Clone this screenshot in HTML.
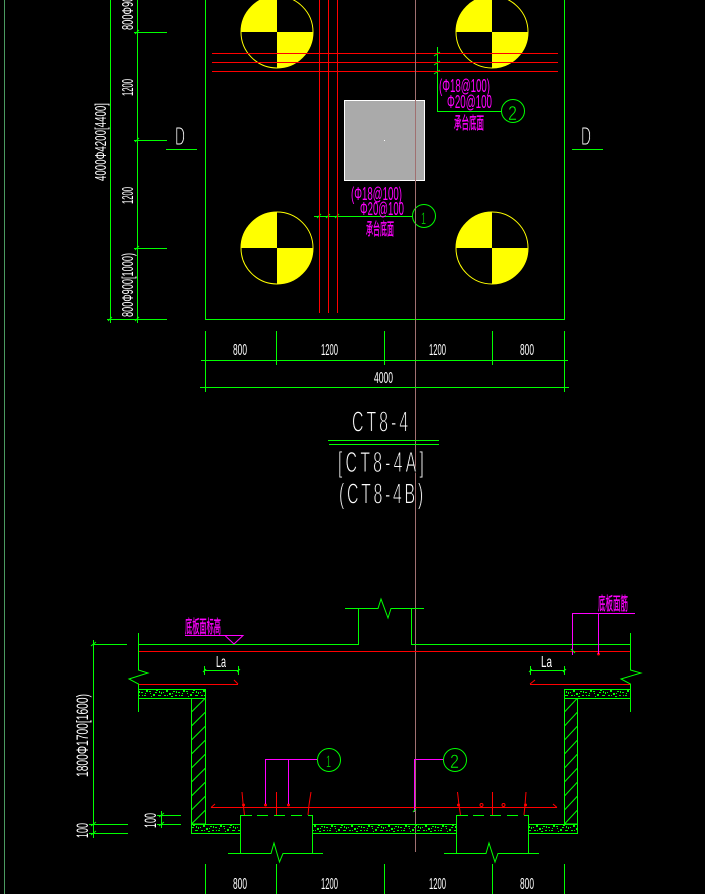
<!DOCTYPE html>
<html><head><meta charset="utf-8"><style>
html,body{margin:0;padding:0;background:#000;width:705px;height:894px;overflow:hidden}
svg{display:block}
text{font-family:"Liberation Sans","Noto Sans CJK SC",sans-serif}
.g line,.g path,.g rect.o{stroke:#0f0;fill:none;stroke-width:1}
.r line,.r path{stroke:#f00;fill:none;stroke-width:1}
.m line,.m path{stroke:#f0f;fill:none;stroke-width:1.4}
.w{fill:#fff}.mt{fill:#f0f}.gt{fill:#0f0;stroke:#000;stroke-width:.5}
.cj{stroke:#f0f;stroke-width:.35}
.ti{fill:#fff;stroke:#000;stroke-width:.9}
</style></head><body>
<svg width="705" height="894" viewBox="0 0 705 894" xmlns="http://www.w3.org/2000/svg" shape-rendering="crispEdges">
<defs>
<g id="noise" fill="#0f0"><rect x="1" y="2" width="2" height="1"/><rect x="5" y="5" width="2" height="2"/><rect x="8" y="1" width="2" height="1"/><rect x="10" y="6" width="3" height="1"/><rect x="13" y="3" width="1" height="2"/><rect x="16" y="6" width="2" height="1"/><rect x="18" y="1" width="2" height="2"/><rect x="21" y="4" width="2" height="2"/><rect x="25" y="2" width="2" height="1"/><rect x="27" y="6" width="2" height="1"/><rect x="30" y="3" width="2" height="1"/><rect x="33" y="6" width="2" height="1"/><rect x="35" y="1" width="2" height="2"/><rect x="3" y="7" width="1" height="1"/><rect x="23" y="7" width="2" height="1"/><rect x="2" y="4" width="1" height="1"/><rect x="7" y="3" width="2" height="1"/><rect x="11" y="2" width="1" height="2"/><rect x="15" y="3" width="1" height="1"/><rect x="19" y="6" width="1" height="1"/><rect x="24" y="4" width="1" height="1"/><rect x="28" y="2" width="1" height="2"/><rect x="31" y="6" width="1" height="1"/><rect x="34" y="4" width="1" height="1"/></g>
<pattern id="n" patternUnits="userSpaceOnUse" x="0" y="689" width="37" height="9"><use href="#noise"/></pattern>
<pattern id="n2" patternUnits="userSpaceOnUse" x="0" y="824" width="37" height="9"><use href="#noise"/></pattern>
<pattern id="d1" patternUnits="userSpaceOnUse" x="191.5" y="698" width="14" height="14"><path d="M0 14L14 0" stroke="#0f0" stroke-width="1" fill="none" shape-rendering="auto"/></pattern>
<pattern id="d2" patternUnits="userSpaceOnUse" x="564.5" y="698" width="13" height="14"><path d="M0 14L13 0" stroke="#0f0" stroke-width="1" fill="none" shape-rendering="auto"/></pattern>
</defs>
<rect width="705" height="894" fill="#000"/>
<line x1="4.5" y1="0" x2="4.5" y2="894" stroke="#4a9a60"/>

<!-- piles -->
<g shape-rendering="auto">
<path d="M277 32V-4A36 36 0 0 0 241 32Z M277 32H313A36 36 0 0 1 277 68Z" fill="#ff0"/><circle cx="277" cy="32" r="36" fill="none" stroke="#ff0"/>
<path d="M492 32V-4A36 36 0 0 0 456 32Z M492 32H528A36 36 0 0 1 492 68Z" fill="#ff0"/><circle cx="492" cy="32" r="36" fill="none" stroke="#ff0"/>
<path d="M277 248V212A36 36 0 0 0 241 248Z M277 248H313A36 36 0 0 1 277 284Z" fill="#ff0"/><circle cx="277" cy="248" r="36" fill="none" stroke="#ff0"/>
<path d="M492 248V212A36 36 0 0 0 456 248Z M492 248H528A36 36 0 0 1 492 284Z" fill="#ff0"/><circle cx="492" cy="248" r="36" fill="none" stroke="#ff0"/>
</g>

<!-- plan outline -->
<g class="g">
<path d="M205.5 0V319.5H564.5V0"/>
<line x1="110.5" y1="0" x2="110.5" y2="323"/><line x1="137.5" y1="0" x2="137.5" y2="323"/>
<line x1="134" y1="32.5" x2="167" y2="32.5"/><line x1="134" y1="140.5" x2="167" y2="140.5"/><line x1="134" y1="248.5" x2="167" y2="248.5"/><line x1="107" y1="319.5" x2="167" y2="319.5"/>
<line x1="166" y1="149.5" x2="197" y2="149.5"/><line x1="572" y1="149.5" x2="603" y2="149.5"/>
<path d="M314 216.5H412"/><path d="M437.5 47V111.5H502"/>
</g>
<g shape-rendering="auto" fill="none" stroke="#0f0">
<circle cx="424" cy="216" r="11.5"/><circle cx="513" cy="111" r="11.5"/>
<path d="M135 34l4-4M135 142l4-4M135 250l4-4M108 321l4-4M135 321l4-4M317 218l4-4M326 218l4-4M335 218l4-4M434 56l6-4M434 65l6-4M434 74l6-4"/>
</g>

<!-- grey column -->
<rect x="344.5" y="100.5" width="80" height="80" fill="#aaa" stroke="#fff"/>
<rect x="384" y="140" width="1" height="1" fill="#fff"/>

<!-- red rebar -->
<g class="r">
<line x1="212" y1="53.5" x2="558" y2="53.5"/><line x1="212" y1="62.5" x2="558" y2="62.5"/><line x1="212" y1="71.5" x2="558" y2="71.5"/>
<line x1="319.5" y1="0" x2="319.5" y2="313"/><line x1="328.5" y1="0" x2="328.5" y2="313"/><line x1="337.5" y1="0" x2="337.5" y2="313"/>
</g>
<line x1="415.5" y1="0" x2="415.5" y2="852" stroke="#a07070"/>

<!-- plan text -->
<g shape-rendering="auto">
<text class="w" transform="translate(133,30) rotate(-90)" font-size="16" textLength="65" lengthAdjust="spacingAndGlyphs">800Φ900[1000)</text>
<text class="w" transform="translate(133,96) rotate(-90)" font-size="16" textLength="17" lengthAdjust="spacingAndGlyphs">1200</text>
<text class="w" transform="translate(133,204) rotate(-90)" font-size="16" textLength="17" lengthAdjust="spacingAndGlyphs">1200</text>
<text class="w" transform="translate(133,317) rotate(-90)" font-size="16" textLength="64" lengthAdjust="spacingAndGlyphs">800Φ900[1000)</text>
<text class="w" transform="translate(106,181) rotate(-90)" font-size="16" textLength="78" lengthAdjust="spacingAndGlyphs">4000Φ4200[4400]</text>
<text class="ti" x="175" y="145" font-size="26" textLength="10" lengthAdjust="spacingAndGlyphs">D</text>
<text class="ti" x="581" y="145" font-size="26" textLength="10" lengthAdjust="spacingAndGlyphs">D</text>
<text class="mt" x="351" y="200" font-size="18" textLength="51" lengthAdjust="spacingAndGlyphs">(Φ18@100)</text>
<text class="mt" x="360" y="215" font-size="18" textLength="44" lengthAdjust="spacingAndGlyphs">Φ20@100</text>
<text class="mt cj" x="366" y="235" font-size="17" textLength="28" lengthAdjust="spacingAndGlyphs">承台底面</text>
<text class="mt" x="439" y="92" font-size="18" textLength="51" lengthAdjust="spacingAndGlyphs">(Φ18@100)</text>
<text class="mt" x="447" y="108" font-size="18" textLength="45" lengthAdjust="spacingAndGlyphs">Φ20@100</text>
<text class="mt cj" x="454" y="129" font-size="17" textLength="30" lengthAdjust="spacingAndGlyphs">承台底面</text>
<text class="gt" x="421" y="224" font-size="17" textLength="5" lengthAdjust="spacingAndGlyphs">1</text>
<text class="gt" x="508" y="120" font-size="20" textLength="9" lengthAdjust="spacingAndGlyphs">2</text>
</g>

<!-- plan dims -->
<g class="g">
<line x1="205.5" y1="331" x2="205.5" y2="365"/><line x1="276.5" y1="331" x2="276.5" y2="365"/><line x1="384.5" y1="331" x2="384.5" y2="365"/><line x1="492.5" y1="331" x2="492.5" y2="365"/><line x1="564.5" y1="331" x2="564.5" y2="365"/>
<line x1="201" y1="360.5" x2="568" y2="360.5"/><line x1="200" y1="387.5" x2="569" y2="387.5"/>
<line x1="205.5" y1="360" x2="205.5" y2="392"/><line x1="564.5" y1="360" x2="564.5" y2="392"/>
<line x1="328" y1="440.5" x2="439" y2="440.5"/><line x1="329" y1="444.5" x2="439" y2="444.5"/>
</g>
<g shape-rendering="auto">
<text class="w" x="233" y="355" font-size="16" textLength="14" lengthAdjust="spacingAndGlyphs">800</text>
<text class="w" x="321" y="355" font-size="16" textLength="17" lengthAdjust="spacingAndGlyphs">1200</text>
<text class="w" x="429" y="355" font-size="16" textLength="17" lengthAdjust="spacingAndGlyphs">1200</text>
<text class="w" x="520" y="355" font-size="16" textLength="14" lengthAdjust="spacingAndGlyphs">800</text>
<text class="w" x="374" y="383" font-size="16" textLength="19" lengthAdjust="spacingAndGlyphs">4000</text>
<text class="ti" transform="translate(352,431.5) scale(.55,1)" font-size="29" textLength="102" lengthAdjust="spacing">CT8-4</text>
<text class="ti" transform="translate(338,472) scale(.55,1)" font-size="29" textLength="156" lengthAdjust="spacing">[CT8-4A]</text>
<text class="ti" transform="translate(339,503.5) scale(.55,1)" font-size="29" textLength="153" lengthAdjust="spacing">(CT8-4B)</text>
</g>

<!-- section: top slab -->
<g class="g">
<path d="M138.5 644.5H358.5V608.5H345"/>
<path d="M424 608.5H391L388 618L381 599L378 608.5H358.5" shape-rendering="auto"/>
<path d="M411.5 608.5V644.5H630.5"/>
<path d="M138.5 633V670L148 673L129 679L138.5 684V712" shape-rendering="auto"/>
<path d="M630.5 633V670L641 673L621 679L630.5 684V712" shape-rendering="auto"/>
<line x1="204" y1="670.5" x2="239" y2="670.5"/><line x1="530" y1="670.5" x2="565" y2="670.5"/>
<line x1="204.5" y1="666" x2="204.5" y2="675"/><line x1="238.5" y1="666" x2="238.5" y2="675"/><line x1="530.5" y1="666" x2="530.5" y2="675"/><line x1="564.5" y1="666" x2="564.5" y2="675"/>
<line x1="93.5" y1="640" x2="93.5" y2="838"/>
<line x1="93" y1="644.5" x2="127" y2="644.5"/><line x1="89" y1="824.5" x2="128" y2="824.5"/><line x1="89" y1="833.5" x2="128" y2="833.5"/>
<line x1="161.5" y1="811" x2="161.5" y2="828"/><line x1="157" y1="815.5" x2="181" y2="815.5"/><line x1="157" y1="824.5" x2="181" y2="824.5"/>
</g>
<g class="r">
<line x1="139" y1="651.5" x2="630" y2="651.5"/>
<line x1="139" y1="684.5" x2="238" y2="684.5"/><line x1="530" y1="684.5" x2="630" y2="684.5"/>
<path d="M234 680L238 684M535 680L530 684" shape-rendering="auto"/>
</g>

<!-- concrete -->
<g stroke="#0f0" stroke-width="1">
<rect x="138.5" y="689.5" width="67" height="9" fill="url(#n)"/>
<rect x="564.5" y="689.5" width="66" height="9" fill="url(#n)"/>
<rect x="191.5" y="698.5" width="14" height="125.5" fill="url(#d1)"/>
<rect x="564.5" y="698.5" width="13" height="125.5" fill="url(#d2)"/>
<rect x="191.5" y="824.5" width="49" height="9" fill="url(#n2)"/>
<rect x="312.5" y="824.5" width="144" height="9" fill="url(#n2)"/>
<rect x="528.5" y="824.5" width="49" height="9" fill="url(#n2)"/>
</g>

<!-- pile caps -->
<g class="g">
<path d="M240.5 815V853.5M312.5 815V853.5M456.5 815V853.5M528.5 815V853.5"/>
<path d="M228 853.5H271L274 843L279.5 862L283 853.5H323" shape-rendering="auto"/>
<path d="M444 853.5H486L489 843L495 862L498 853.5H539" shape-rendering="auto"/>
<path d="M241 815.5H252M257 815.5H268M274 815.5H285M291 815.5H302M308 815.5H312"/>
<path d="M457 815.5H468M473 815.5H484M490 815.5H501M507 815.5H518M524 815.5H528"/>
</g>

<!-- lower rebar -->
<g class="r" shape-rendering="auto">
<line x1="211" y1="807.5" x2="557" y2="807.5"/>
<path d="M211 807.5L215 804M557 807.5L553 804"/>
<path d="M242 792L243 803L244.5 815M276.5 792V815M311 792L309 805L308 815M457.5 792L459 805L460.5 815M492.5 792V815M526 792L525 805L524 815" stroke-width="1.3"/>
</g>
<g shape-rendering="auto">
<circle cx="243.5" cy="805" r="1.5" fill="#f00"/><circle cx="265.5" cy="805" r="1.5" fill="#f00"/><circle cx="288.5" cy="805" r="1.5" fill="#f00"/>
<circle cx="458.5" cy="805" r="1.5" fill="#f00"/><circle cx="481.5" cy="805" r="1.5" fill="none" stroke="#f00"/><circle cx="503.5" cy="805" r="1.5" fill="none" stroke="#f00"/><circle cx="525.5" cy="805" r="1.5" fill="#f00"/>
<circle cx="598.5" cy="654" r="1.5" fill="#f00"/>
</g>

<!-- magenta leaders -->
<g class="m">
<path d="M265.5 804V759.5H317M288.5 759.5V804"/>
<path d="M414.5 812V759.5H443.5"/>
<path d="M635 613.5H572.5V655M598.5 613.5V654"/>
</g>
<path d="M185 635.5H243L234 644L225 635.5" fill="none" stroke="#f0f" shape-rendering="auto"/>
<path d="M571 649L575 653M413 812L416 809" stroke="#0f0" fill="none" shape-rendering="auto"/>
<g shape-rendering="auto" fill="none" stroke="#0f0">
<circle cx="329" cy="760" r="11.5"/><circle cx="455" cy="760" r="11.5"/>
<path d="M91 646l5-4M91 826l5-4M91 835l5-4M159 817l5-4M159 826l5-4M203 672l3-3M237 672l3-3M529 672l3-3M563 672l3-3"/>
</g>

<!-- section bottom dims -->
<g class="g">
<line x1="205.5" y1="864" x2="205.5" y2="894"/><line x1="276.5" y1="864" x2="276.5" y2="894"/><line x1="384.5" y1="864" x2="384.5" y2="894"/><line x1="492.5" y1="864" x2="492.5" y2="894"/><line x1="564.5" y1="864" x2="564.5" y2="894"/>
</g>

<!-- section text -->
<g shape-rendering="auto">
<text class="w" x="216" y="667" font-size="16" textLength="10" lengthAdjust="spacingAndGlyphs">La</text>
<text class="w" x="541" y="667" font-size="16" textLength="11" lengthAdjust="spacingAndGlyphs">La</text>
<text class="mt cj" x="185" y="633" font-size="18" textLength="36" lengthAdjust="spacingAndGlyphs">底板面标高</text>
<text class="mt cj" x="598" y="610" font-size="18" textLength="30" lengthAdjust="spacingAndGlyphs">底板面筋</text>
<text class="w" transform="translate(88,777) rotate(-90)" font-size="17" textLength="83" lengthAdjust="spacingAndGlyphs">1800Φ1700[1600)</text>
<text class="w" transform="translate(88,838) rotate(-90)" font-size="17" textLength="15" lengthAdjust="spacingAndGlyphs">100</text>
<text class="w" transform="translate(156,828) rotate(-90)" font-size="17" textLength="15" lengthAdjust="spacingAndGlyphs">100</text>
<text class="gt" x="326" y="767" font-size="17" textLength="5" lengthAdjust="spacingAndGlyphs">1</text>
<text class="gt" x="450" y="768" font-size="19" textLength="9" lengthAdjust="spacingAndGlyphs">2</text>
<text class="w" x="233" y="889" font-size="16" textLength="14" lengthAdjust="spacingAndGlyphs">800</text>
<text class="w" x="321" y="889" font-size="16" textLength="17" lengthAdjust="spacingAndGlyphs">1200</text>
<text class="w" x="429" y="889" font-size="16" textLength="17" lengthAdjust="spacingAndGlyphs">1200</text>
<text class="w" x="520" y="889" font-size="16" textLength="14" lengthAdjust="spacingAndGlyphs">800</text>
</g>
</svg>
</body></html>
